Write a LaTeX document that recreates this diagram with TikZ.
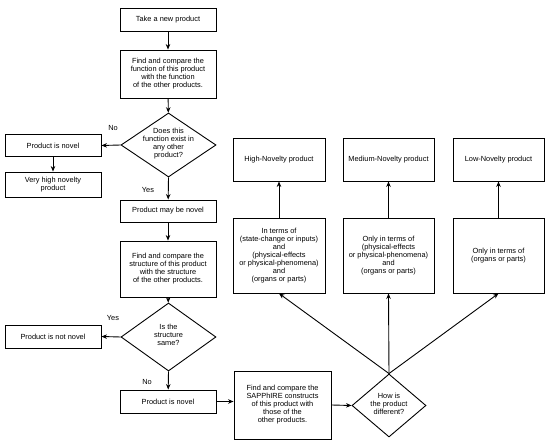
\documentclass[tikz,border=0pt]{standalone}
\usepackage{fontspec}
\setmainfont{Liberation Sans}
\usetikzlibrary{shapes.geometric,arrows.meta}
\newcommand\dtext[1]{\raisebox{-2pt}{\smash{\makebox[0pt]{\begin{tabular}{@{}c@{}}#1\end{tabular}}}}}
\begin{document}
\begin{tikzpicture}[x=1pt,y=-1pt,
  font=\fontsize{7.4}{8}\selectfont,
  box/.style={draw, line width=0.9pt, align=center, inner sep=0pt},
  dia/.style={draw, shape=diamond, inner sep=0pt, line width=0.9pt},
  arr/.style={-{Stealth[length=5.5pt,width=4.5pt]}, line width=0.9pt},
  lbl/.style={inner sep=0pt}]
\useasboundingbox[fill=white] (0,0) rectangle (550,446);
% left column
\node[box, minimum width=96pt, minimum height=23pt] (take) at (168,19.5) {Take a new product};
\node[box, minimum width=96pt, minimum height=48pt] (func) at (168,74) {Find and compare the\\function of this product\\with the function\\of the other products.};
\node[dia, minimum width=95pt, minimum height=64pt] (d1) at (168.5,145) {\dtext{Does this\\function exist in\\any other\\product?}};
\node[box, minimum width=96pt, minimum height=22pt] (nov1) at (53,145.5) {Product is novel};
\node[box, minimum width=96pt, minimum height=25pt] (vhigh) at (53,184.5) {Very high novelty\\product};
\node[box, minimum width=96pt, minimum height=22pt] (maybe) at (168,211) {Product may be novel};
\node[box, minimum width=96pt, minimum height=56pt] (struct) at (168,269) {Find and compare the\\structure of this product\\with the structure\\of the other products.};
\node[dia, minimum width=95pt, minimum height=68pt] (d2) at (168.5,337) {\dtext{Is the\\structure\\same?}};
\node[box, minimum width=96pt, minimum height=23pt] (notnov) at (53,336.5) {Product is not novel};
\node[box, minimum width=96pt, minimum height=23pt] (nov2) at (168,401.5) {Product is novel};
\node[box, minimum width=97pt, minimum height=68pt] (sap) at (282.5,405) {Find and compare the\\SAPPhIRE constructs\\of this product with\\those of the\\other products.};
\node[dia, minimum width=74pt, minimum height=63pt] (d3) at (389,405.5) {\dtext{How is\\the product\\different?}};
% right part
\node[box, minimum width=92pt, minimum height=43pt] (hi1) at (279,159.5) {High-Novelty product};
\node[box, minimum width=91pt, minimum height=43pt] (me1) at (388.5,159.5) {Medium-Novelty product};
\node[box, minimum width=91pt, minimum height=43pt] (lo1) at (498.5,159.5) {Low-Novelty product};
\node[box, minimum width=92pt, minimum height=75pt] (hi2) at (279,255.5) {In terms of\\(state-change or inputs)\\and\\(physical-effects\\or physical-phenomena)\\and\\(organs or parts)};
\node[box, minimum width=91pt, minimum height=75pt] (me2) at (388.5,255.5) {Only in terms of\\(physical-effects\\or physical-phenomena)\\and\\(organs or parts)};
\node[box, minimum width=91pt, minimum height=75pt] (lo2) at (498.5,255.5) {Only in terms of\\(organs or parts)};
% labels
\node[lbl] (no1) at (113,128) {No};
\node[lbl] (yes1) at (148,190) {Yes};
\node[lbl] (yes2) at (113,318) {Yes};
\node[lbl] (no2) at (147,382) {No};
% connectors
\draw[arr] (take) -- (func);
\draw[arr] (func) -- (d1);
\draw[arr] (d1.west) -- (nov1.east);
\draw[arr] (nov1) -- (vhigh);
\draw[arr] (d1.south) -- (maybe);
\draw[arr] (maybe) -- (struct);
\draw[arr] (struct) -- (d2);
\draw[arr] (d2.west) -- (notnov.east);
\draw[arr] (d2.south) -- (nov2);
\draw[arr] (nov2.east) -- (sap.west |- nov2.east);
\draw[arr] (sap.east) -- (d3.west);
\draw[arr] (d3.north) -- (hi2.south);
\draw[arr] (d3.north) -- (me2.south);
\draw[arr] (d3.north) -- (lo2.south);
\draw[arr] (hi2) -- (hi1);
\draw[arr] (me2) -- (me1);
\draw[arr] (lo2) -- (lo1);
\end{tikzpicture}
\end{document}
